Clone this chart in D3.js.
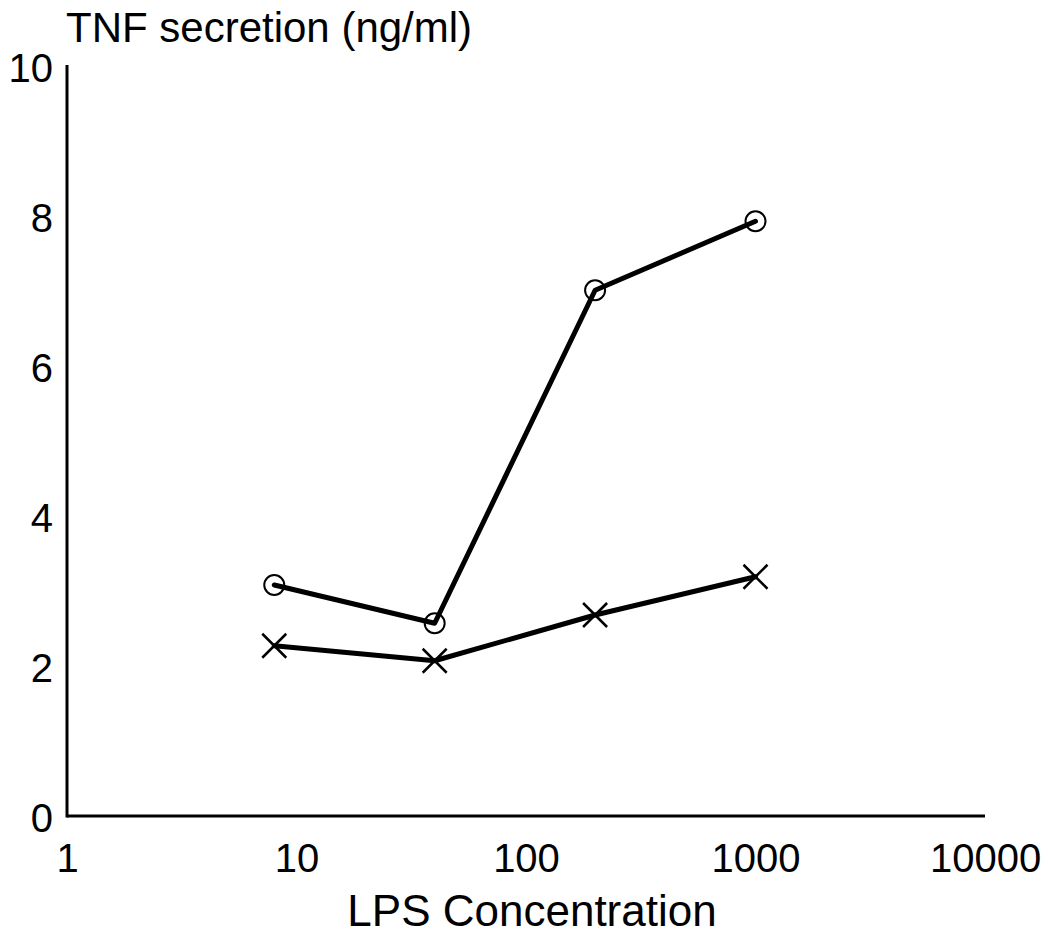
<!DOCTYPE html>
<html>
<head>
<meta charset="utf-8">
<script src="https://cdn.jsdelivr.net/npm/d3@7"></script>
<style>
html,body{margin:0;padding:0;background:#fff;}
svg{display:block;}
text{font-family:"Liberation Sans",Arial,Helvetica,sans-serif;fill:#000;}
</style>
</head>
<body>
<svg id="chart" width="1048" height="937"></svg>
<script>
const concentrations = [8, 40, 200, 1000];
const circleSeries = [3.08, 2.57, 7.01, 7.93];
const crossSeries = [2.27, 2.07, 2.68, 3.19];
const xTicks = [1, 10, 100, 1000, 10000];
const yTicks = [0, 2, 4, 6, 8, 10];
const yTitle = "TNF secretion (ng/ml)";
const xTitle = "LPS Concentration";

const svg = d3.select("#chart");
const x = d3.scaleLog().domain([1, 10000]).range([67, 985]);
const y = d3.scaleLinear().domain([0, 10]).range([816, 66]);

// axes
const xAxis = d3.axisBottom(x).tickValues(xTicks).tickFormat(d3.format("d")).tickSize(0).tickPadding(56);
const gx = svg.append("g").attr("transform", "translate(0,816)").call(xAxis);
gx.select(".domain").attr("stroke", "#000").attr("stroke-width", 3).attr("d", `M${x(1)},0H${x(10000)}`);
gx.selectAll("text").style("font-size", "40px").attr("dy", "0");

const yAxis = d3.axisLeft(y).tickValues(yTicks).tickFormat(d3.format("d")).tickSize(0).tickPadding(14);
const gy = svg.append("g").attr("transform", `translate(${x(1)},0)`).call(yAxis);
gy.select(".domain").attr("stroke", "#000").attr("stroke-width", 3).attr("d", `M0,${y(10) - 1}V${y(0) + 1.5}`);
gy.selectAll("text").style("font-size", "40px").attr("dy", "0.38em");
svg.selectAll(".tick text").attr("fill", "#000");

// titles
svg.append("text").attr("x", 66).attr("y", 42).style("font-size", "42px").text(yTitle);
svg.append("text").attr("x", 532).attr("y", 926).attr("text-anchor", "middle").style("font-size", "44px").text(xTitle);

const line = d3.line().x(d => x(d[0])).y(d => y(d[1]));

const circData = concentrations.map((c, i) => [c, circleSeries[i]]);
const crossData = concentrations.map((c, i) => [c, crossSeries[i]]);

// circle markers
svg.append("g").selectAll("circle").data(circData).join("circle")
  .attr("cx", d => x(d[0])).attr("cy", d => y(d[1])).attr("r", 10)
  .attr("fill", "none").attr("stroke", "#000").attr("stroke-width", 2);

// cross markers
const cs = 12;
svg.append("g").selectAll("path").data(crossData).join("path")
  .attr("d", d => {
    const cx = x(d[0]), cy = y(d[1]);
    return `M${cx - cs},${cy - cs}L${cx + cs},${cy + cs}M${cx - cs},${cy + cs}L${cx + cs},${cy - cs}`;
  })
  .attr("fill", "none").attr("stroke", "#000").attr("stroke-width", 2.5);

// lines
svg.append("path").datum(circData).attr("d", line)
  .attr("fill", "none").attr("stroke", "#000").attr("stroke-width", 5).attr("stroke-linejoin", "round").attr("stroke-linecap", "round");
svg.append("path").datum(crossData).attr("d", line)
  .attr("fill", "none").attr("stroke", "#000").attr("stroke-width", 5).attr("stroke-linejoin", "round").attr("stroke-linecap", "round");
</script>
</body>
</html>
